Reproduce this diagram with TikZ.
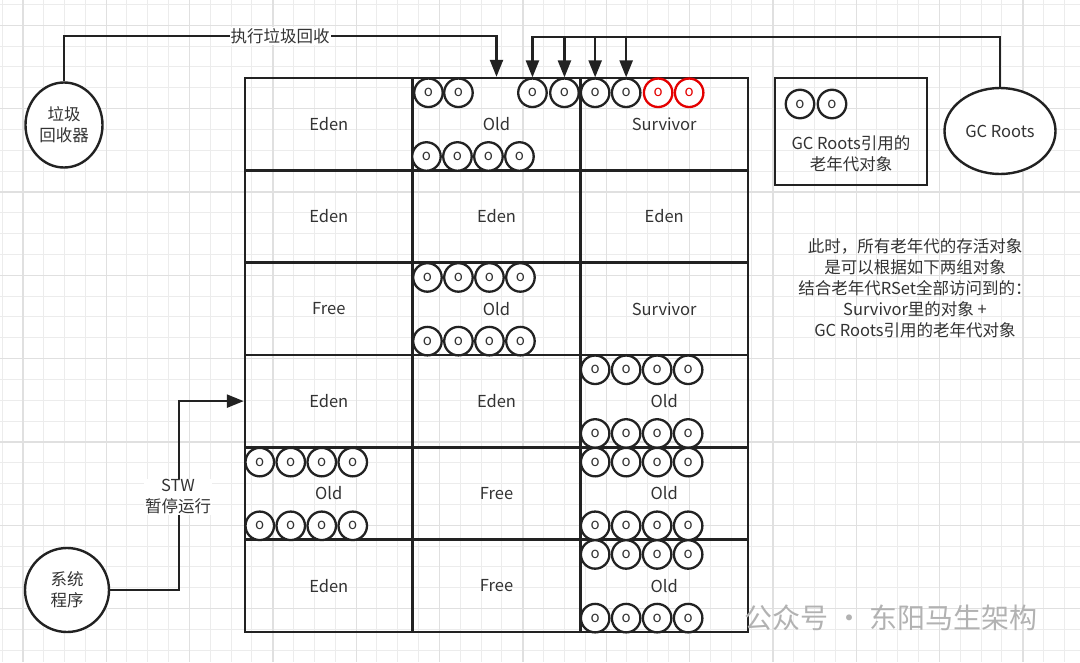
\documentclass[tikz,border=0pt]{standalone}
\usepackage{fontspec}
\setmainfont{Noto Sans CJK SC}
\usepackage{tikz}
\usetikzlibrary{shapes.geometric, arrows.meta, positioning, calc}
\definecolor{inkgray}{RGB}{34, 34, 34}
\definecolor{textgray}{RGB}{51, 51, 51}
\definecolor{gridminor}{RGB}{236, 236, 236}
\definecolor{gridmajor}{RGB}{224, 224, 224}
\definecolor{objred}{RGB}{228, 0, 0}

\begin{document}
\begin{tikzpicture}[x=1pt, y=-1pt,
    cell/.style={rectangle, draw=inkgray, line width=2.4pt, minimum width=167.7pt, minimum height=92.3pt, inner sep=0pt, text=textgray, font=\fontsize{16.5}{20}\selectfont},
    obj/.style={circle, draw=inkgray, line width=2.3pt, minimum size=28.5pt, inner sep=0pt, fill=white, text=textgray, font=\fontsize{15}{15}\selectfont},
    redobj/.style={obj, draw=objred, text=objred},
    actor/.style={ellipse, draw=inkgray, line width=2.4pt, fill=white, inner sep=0pt, text=textgray, align=center, font=\fontsize{16.5}{21}\selectfont},
    txt/.style={text=textgray, align=center, font=\fontsize{16.5}{21}\selectfont},
    conn/.style={draw=inkgray, line width=2.4pt, -{Triangle[length=17pt, width=13pt]}}
]
    \useasboundingbox (0,0) rectangle (1080,662);
    \fill[white] (0,0) rectangle (1080,662);

    % background grid
    \foreach \i in {0,...,51} {
        \draw[gridminor, line width=1pt] (2+20.83*\i,0) -- ++(0,662);
    }
    \foreach \j in {0,...,31} {
        \draw[gridminor, line width=1pt] (0,4.5+20.83*\j) -- ++(1080,0);
    }
    \foreach \i in {0,...,12} {
        \draw[gridmajor, line width=1.2pt] (23+83.33*\i,0) -- ++(0,662);
    }
    \foreach \j in {0,...,7} {
        \draw[gridmajor, line width=1.2pt] (0,25.3+83.33*\j) -- ++(1080,0);
    }

    % Heap regions
    \foreach \a/\b/\c [count=\r] in {Eden/Old/Survivor, Eden/Eden/Eden, Free/Old/Survivor, Eden/Eden/Old, Old/Free/Old, Eden/Free/Old} {
        \node (c\r-1) [cell] at (328.8, 31.8+92.33*\r) {\a};
        \node (c\r-2) [cell] at (496.5, 31.8+92.33*\r) {\b};
        \node (c\r-3) [cell] at (664.2, 31.8+92.33*\r) {\c};
    }

    % objects in the old regions
    \foreach \cell in {c3-2, c4-3, c5-1, c5-3, c6-3} {
        \foreach \k in {0,...,3} {
            \node (\cell-t\k) [obj] at ($(\cell.north west)+(16+31*\k,16)$) {o};
            \node (\cell-b\k) [obj] at ($(\cell.south west)+(16+31*\k,-15)$) {o};
        }
    }
    \foreach \k in {0,...,3} {
        \node (c1-2-b\k) [obj] at ($(c1-2.south west)+(15+31*\k,-15)$) {o};
    }
    \node (c1-2-t0) [obj] at ($(c1-2.north west)+(17,16)$) {o};
    \node (c1-2-t1) [obj] at ($(c1-2.north west)+(47,16)$) {o};
    \node (c1-2-t2) [obj] at ($(c1-2.north west)+(121,16)$) {o};
    \node (c1-2-t3) [obj] at ($(c1-2.north west)+(153,16)$) {o};
    \node (c1-3-t0) [obj] at ($(c1-3.north west)+(16,16)$) {o};
    \node (c1-3-t1) [obj] at ($(c1-3.north west)+(47,16)$) {o};
    \node (c1-3-t2) [redobj] at ($(c1-3.north west)+(79,16)$) {o};
    \node (c1-3-t3) [redobj] at ($(c1-3.north west)+(110,16)$) {o};

    % legend
    \node (legend) [rectangle, draw=inkgray, line width=2.4pt, minimum width=152pt, minimum height=107pt] at (851,131.5) {};
    \node (leg-o1) [obj] at (800,104) {o};
    \node (leg-o2) [obj] at (832,104) {o};
    \node (legtext) [txt] at (851,154) {GC Roots引用的\\老年代对象};

    % actors
    \node (gc) [actor, minimum width=77pt, minimum height=85pt] at (64,125) {垃圾\\回收器};
    \node (roots) [actor, minimum width=111pt, minimum height=86pt] at (1000,131) {GC Roots};
    \node (sys) [actor, minimum width=84pt, minimum height=84pt] at (67,590) {系统\\程序};

    % connectors
    \coordinate (topy) at (0,36);
    \coordinate (busy) at (0,37);
    \draw[conn] (gc.north) |- (c1-2.north |- topy) -- (c1-2.north);
    \draw[conn] (roots.north) |- (c1-2-t2.north |- busy) -- (c1-2-t2.north);
    \foreach \t in {c1-2-t3, c1-3-t0, c1-3-t1} {
        \draw[conn] (\t.north |- busy) -- (\t.north);
    }
    \draw[conn] (sys.east) -- ++(69,0) |- (c4-1.west);

    % labels
    \node (exec) [txt, fill=white, inner sep=1pt] at (280,36) {执行垃圾回收};
    \node (stw) [txt, fill=white, inner sep=1pt] at (178,497) {STW\\暂停运行};
    \node (note) [txt] at (915,288.5) {此时，所有老年代的存活对象\\是可以根据如下两组对象\\结合老年代RSet全部访问到的：\\Survivor里的对象 +\\GC Roots引用的老年代对象};
    \node (mark) [text=gray!60, font=\fontsize{28}{28}\selectfont] at (891,618) {公众号 · 东阳马生架构};
\end{tikzpicture}
\end{document}
